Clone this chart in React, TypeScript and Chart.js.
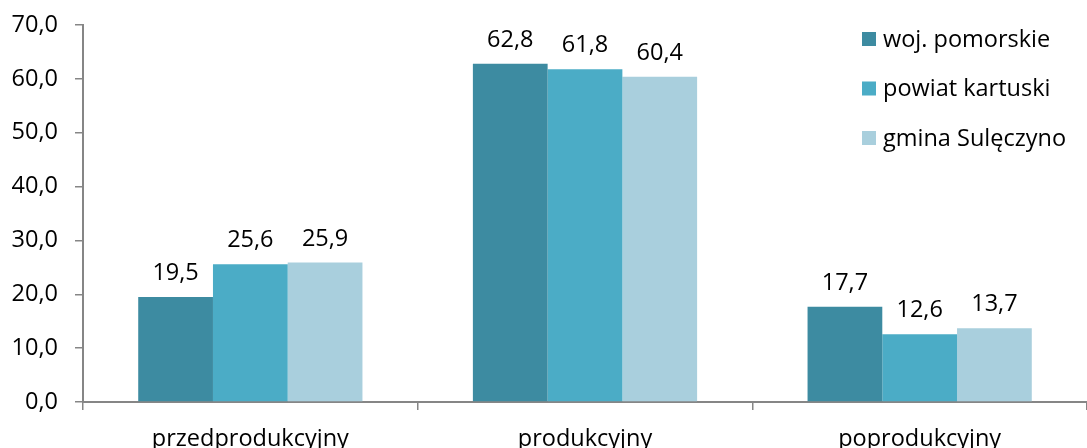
import React, { useEffect, useRef } from "react";
import { Chart, registerables } from "chart.js";

Chart.register(...registerables);

const categories = ["przedprodukcyjny", "produkcyjny", "poprodukcyjny"];
const seriesNames = ["woj. pomorskie", "powiat kartuski", "gmina Sulęczyno"];
const pomorskie = [19.5, 62.8, 17.7];
const kartuski = [25.6, 61.8, 12.6];
const suleczyno = [25.9, 60.4, 13.7];
const colors = ["#3D8BA1", "#4BACC6", "#A9CFDD"];
const yTicksMax = 70;
const yTicksStep = 10;

const FONT = "'Open Sans', sans-serif";
const FS = 23.5;
const fmt = (v: number) => v.toFixed(1).replace(".", ",");

const labelPlugin = {
  id: "valueLabels",
  afterDatasetsDraw(chart: any) {
    const ctx = chart.ctx;
    ctx.save();
    ctx.font = `${FS}px ${FONT}`;
    ctx.fillStyle = "#000";
    ctx.textAlign = "center";
    ctx.textBaseline = "alphabetic";
    chart.data.datasets.forEach((ds: any, i: number) => {
      const meta = chart.getDatasetMeta(i);
      meta.data.forEach((el: any, j: number) => {
        ctx.fillText(fmt(ds.data[j]), el.x, el.y - 17);
      });
    });
    ctx.restore();
  },
};

const legendPlugin = {
  id: "insideLegend",
  afterDraw(chart: any) {
    const ctx = chart.ctx;
    ctx.save();
    ctx.font = `${FS}px ${FONT}`;
    ctx.textAlign = "left";
    ctx.textBaseline = "middle";
    chart.data.datasets.forEach((ds: any, i: number) => {
      const cy = 39 + i * 49.5;
      ctx.fillStyle = ds.backgroundColor;
      ctx.fillRect(862, cy - 7, 14, 14);
      ctx.fillStyle = "#000";
      ctx.fillText(ds.label, 883, cy + 1);
    });
    ctx.restore();
  },
};

export default function App() {
  const ref = useRef<HTMLCanvasElement>(null);
  useEffect(() => {
    document.body.style.margin = "0";
    const chart = new Chart(ref.current!, {
      type: "bar",
      data: {
        labels: categories,
        datasets: [pomorskie, kartuski, suleczyno].map((d, i) => ({
          label: seriesNames[i],
          data: d,
          backgroundColor: colors[i],
          borderWidth: 0,
          categoryPercentage: 0.67,
          barPercentage: 1,
        })),
      },
      options: {
        animation: false,
        responsive: false,
        maintainAspectRatio: false,
        layout: { padding: { top: 0, right: -4, left: 0, bottom: 0 } },
        plugins: { legend: { display: false }, tooltip: { enabled: false } },
        scales: {
          x: {
            grid: {
              display: true,
              drawOnChartArea: false,
              offset: true,
              tickLength: 8,
              color: "#868686",
              lineWidth: 1.5,
            },
            border: { color: "#868686", width: 2 },
            ticks: {
              font: { family: FONT, size: FS },
              color: "#000",
              padding: 15,
              maxRotation: 0,
            },
            afterFit: (s: any) => {
              s.height = 46;
              s.paddingLeft = 0;
              s.paddingRight = 0;
            },
          },
          y: {
            min: 0,
            max: yTicksMax,
            grid: {
              display: true,
              drawOnChartArea: false,
              tickLength: 8,
              color: "#868686",
              lineWidth: 1.5,
            },
            border: { color: "#868686", width: 2 },
            ticks: {
              stepSize: yTicksStep,
              font: { family: FONT, size: FS },
              color: "#000",
              padding: 17,
              callback: (v: any) => fmt(Number(v)),
            },
            afterFit: (s: any) => {
              s.width = 83;
              s.paddingTop = 25;
              s.paddingBottom = 0;
            },
          },
        },
      },
      plugins: [labelPlugin, legendPlugin],
    });
    return () => chart.destroy();
  }, []);
  return (
    <div style={{ width: 1087, height: 448, background: "#fff" }}>
      <canvas ref={ref} width={1087} height={448} />
    </div>
  );
}
